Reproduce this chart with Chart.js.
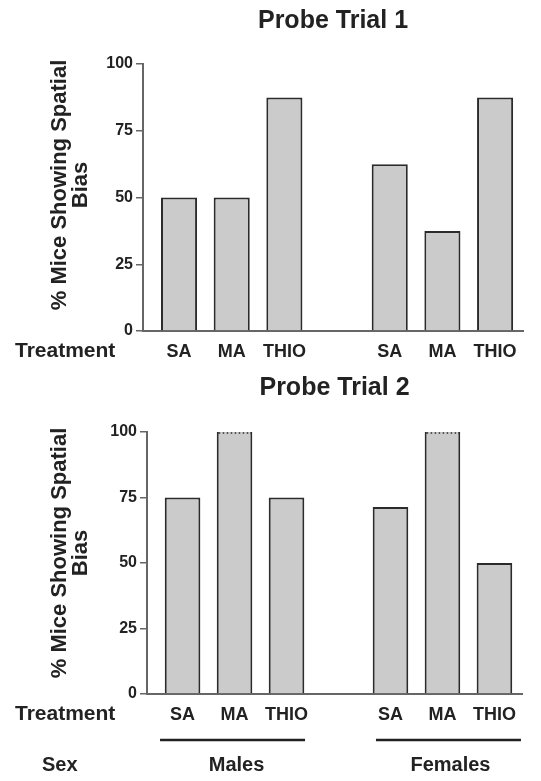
<!DOCTYPE html>
<html>
<head>
<meta charset="utf-8">
<script src="https://cdn.jsdelivr.net/npm/chart.js@4"></script>
<style>
  html, body { margin: 0; padding: 0; background: #fff; }
  #wrap1 { position: absolute; left: 0; top: 0; width: 541px; height: 365px; }
  #wrap2 { position: absolute; left: 0; top: 365px; width: 541px; height: 416px; }
</style>
</head>
<body>
<div id="wrap1"><canvas id="p1"></canvas></div>
<div id="wrap2"><canvas id="p2"></canvas></div>
<script>
const treatments = ['SA', 'MA', 'THIO'];
const sexes = ['Males', 'Females'];
const trial1Males = [50, 50, 87.5];
const trial1Females = [62.5, 37.5, 87.5];
const trial2Males = [75, 100, 75];
const trial2Females = [71.4, 100, 50];
const yTicks = [0, 25, 50, 75, 100];
const yLabel = ['% Mice Showing Spatial', 'Bias'];

// x slots: males, an empty gap, females
const slots = [...treatments, '', ...treatments];

const FONT = '"Liberation Sans", Arial, sans-serif';
const INK = '#222';
const AXIS = '#666';
const BAR_FILL = '#cbcbcb';
const BAR_EDGE = '#2b2b2b';

function toPoints(males, females) {
    const pts = [];
    males.forEach((v, i) => pts.push({x: i, y: v}));
    females.forEach((v, i) => pts.push({x: treatments.length + 1 + i, y: v}));
    return pts;
}

//////////// plugins

const sideLabels = {
    id: 'sideLabels',
    afterDraw(chart) {
        const ctx = chart.ctx;
        ctx.save();
        ctx.fillStyle = INK;
        ctx.font = 'bold 21px ' + FONT;
        ctx.textAlign = 'left';
        ctx.textBaseline = 'middle';
        ctx.fillText('Treatment', 15, chart.scales.x.top + 20);

        // rotated y axis title, two lines
        ctx.font = 'bold 22px ' + FONT;
        ctx.translate(60, chart.chartArea.top + 121);
        ctx.rotate(-Math.PI / 2);
        ctx.textAlign = 'center';
        yLabel.forEach((line, i) => ctx.fillText(line, 0, i * 21));
        ctx.restore();
    }
};

// bars sitting on the top of the scale get a dotted top edge
const dottedTop = {
    id: 'dottedTop',
    afterDatasetsDraw(chart) {
        const ctx = chart.ctx;
        const yMax = chart.scales.y.max;
        const meta = chart.getDatasetMeta(0);
        meta.data.forEach((bar, i) => {
            if (meta._parsed[i].y < yMax) return;
            const {x, y, width} = bar.getProps(['x', 'y', 'width'], true);
            ctx.save();
            ctx.fillStyle = BAR_FILL;
            ctx.fillRect(x - width / 2 + 2, y, width - 4, 2);
            ctx.strokeStyle = BAR_EDGE;
            ctx.lineWidth = 1.5;
            ctx.setLineDash([1.5, 2.5]);
            ctx.beginPath();
            ctx.moveTo(x - width / 2 + 2, y + 1);
            ctx.lineTo(x + width / 2 - 2, y + 1);
            ctx.stroke();
            ctx.restore();
        });
    }
};

const sexRow = {
    id: 'sexRow',
    afterDraw(chart) {
        const {ctx, scales: {x}} = chart;
        const lineY = x.top + 46;
        const textY = x.top + 71;
        const lineShift = [-2, 6];
        const textShift = [2, 8];
        ctx.save();
        ctx.fillStyle = INK;
        ctx.strokeStyle = INK;
        ctx.lineWidth = 2.5;
        ctx.font = 'bold 20px ' + FONT;
        ctx.textBaseline = 'middle';
        ctx.textAlign = 'left';
        ctx.fillText('Sex', 42, textY);
        ctx.textAlign = 'center';
        sexes.forEach((name, g) => {
            const first = g * (treatments.length + 1);
            const last = first + treatments.length - 1;
            const mid = (x.getPixelForValue(first) + x.getPixelForValue(last)) / 2;
            ctx.beginPath();
            ctx.moveTo(mid + lineShift[g] - 72.5, lineY);
            ctx.lineTo(mid + lineShift[g] + 72.5, lineY);
            ctx.stroke();
            ctx.fillText(name, mid + textShift[g], textY);
        });
        ctx.restore();
    }
};

//////////// charts

function createChart(id, title, males, females, box, extra) {
    return new Chart(document.getElementById(id), {
        type: 'bar',
        data: {
            datasets: [{
                data: toPoints(males, females),
                backgroundColor: BAR_FILL,
                borderColor: BAR_EDGE,
                borderWidth: 2,
                barPercentage: 0.685,
                categoryPercentage: 1
            }]
        },
        options: {
            responsive: true,
            maintainAspectRatio: false,
            animation: false,
            layout: { padding: { left: 0, right: box.right, top: 0, bottom: 0 } },
            plugins: {
                legend: { display: false },
                tooltip: { enabled: false },
                title: {
                    display: true,
                    text: title,
                    fullSize: false,
                    color: INK,
                    font: { family: FONT, size: 25, weight: 'bold', lineHeight: 1.2 },
                    padding: { top: box.titleTop, bottom: box.titleBottom }
                }
            },
            scales: {
                x: {
                    type: 'linear',
                    offset: false,
                    bounds: 'data',
                    min: -0.684,
                    max: 6.53,
                    grid: { display: false, drawTicks: false, offset: false },
                    border: { display: true, color: AXIS, width: 2 },
                    ticks: {
                        autoSkip: false,
                        maxRotation: 0,
                        padding: 10,
                        color: INK,
                        font: { family: FONT, size: 18, weight: 'bold' },
                        callback: v => slots[v] ?? ''
                    },
                    afterBuildTicks: s => { s.ticks = slots.map((_, i) => ({value: i})); },
                    afterFit: s => { s.height = box.bottom; }
                },
                y: {
                    min: 0,
                    max: 100,
                    grid: { drawOnChartArea: false, drawTicks: true, tickLength: 7, color: AXIS, lineWidth: 1.5 },
                    border: { color: AXIS, width: 2 },
                    ticks: {
                        padding: 3,
                        color: INK,
                        font: { family: FONT, size: 16, weight: 'bold' }
                    },
                    afterBuildTicks: s => { s.ticks = yTicks.map(v => ({value: v})); },
                    afterFit: s => { s.width = box.left; }
                }
            }
        },
        plugins: [sideLabels, dottedTop, ...extra]
    });
}

let chart1 = createChart('p1', 'Probe Trial 1', trial1Males, trial1Females,
    { left: 143, right: 18, bottom: 34, titleTop: 6, titleBottom: 28 }, []);

let chart2 = createChart('p2', 'Probe Trial 2', trial2Males, trial2Females,
    { left: 147, right: 19, bottom: 87, titleTop: 8, titleBottom: 29 }, [sexRow]);
</script>
</body>
</html>
